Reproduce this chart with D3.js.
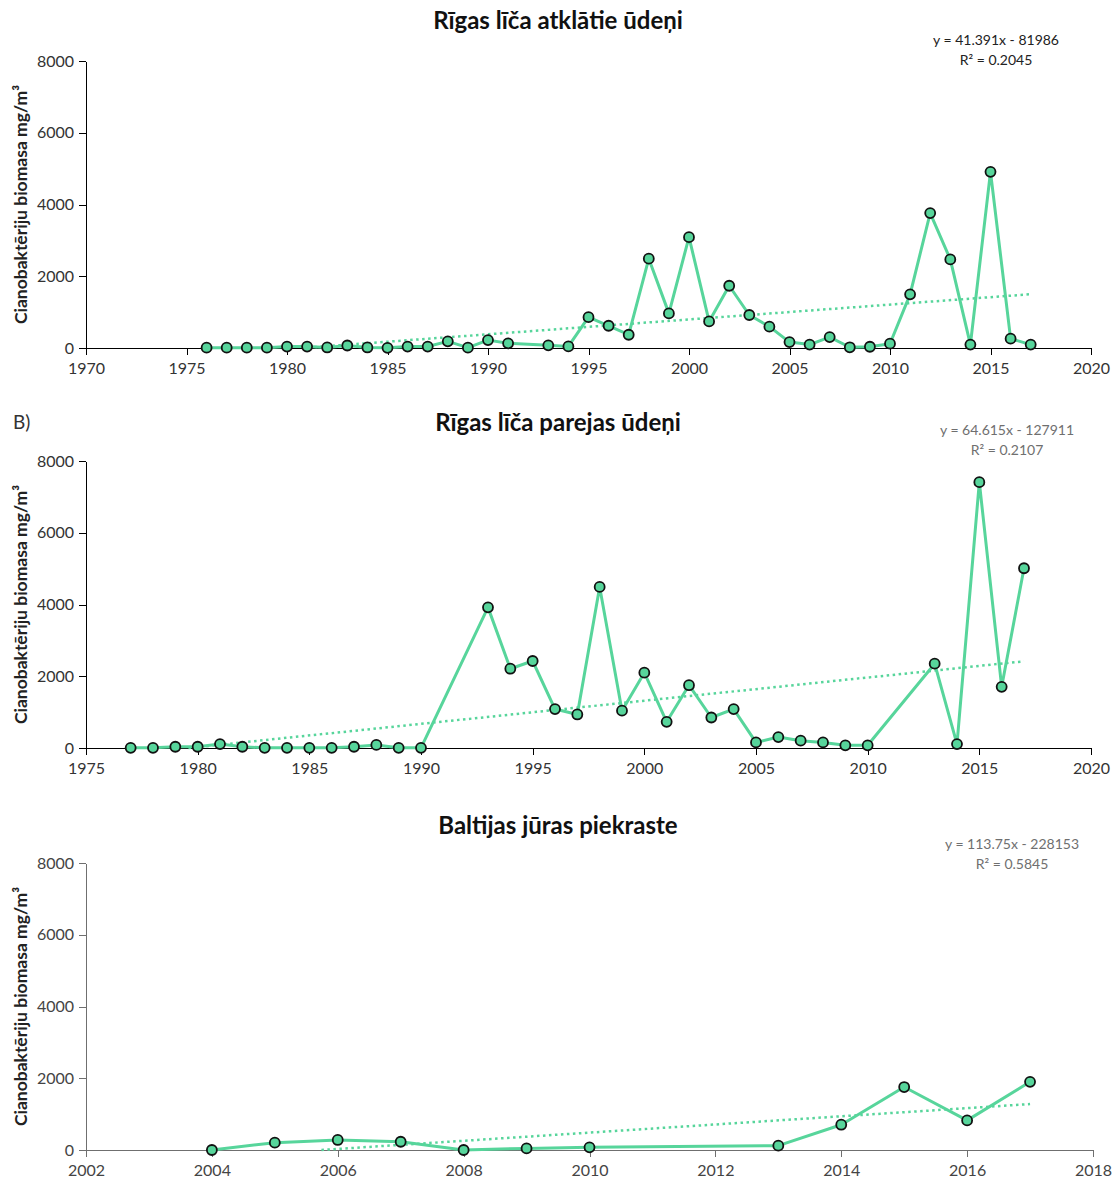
<!DOCTYPE html>
<style>
    body { margin: 0; background: #fff; font-family: Lato, 'Open Sans', sans-serif; }
    .axis path, .axis line { shape-rendering: crispEdges; }
</style>
<svg width="1115" height="1182"></svg>
<script src="https://d3js.org/d3.v7.min.js"></script>
<script>
// panel A - Rīgas līča atklātie ūdeņi
var yearsA = [1976,1977,1978,1979,1980,1981,1982,1983,1984,1985,1986,1987,1988,1989,1990,1991,1993,1994,
              1995,1996,1997,1998,1999,2000,2001,2002,2003,2004,2005,2006,2007,2008,2009,2010,2011,2012,2013,2014,2015,2016,2017];
var valuesA = [10,10,10,10,40,40,15,70,15,5,40,40,185,10,220,130,75,45,
               860,620,370,2490,965,3090,740,1735,920,595,165,95,305,20,35,120,1495,3760,2470,95,4910,260,95];
var trendA = [41.391, -81986];

// panel B - Rīgas līča parejas ūdeņi
var yearsB = [1977,1978,1979,1980,1981,1982,1983,1984,1985,1986,1987,1988,1989,1990,1993,1994,1995,
              1996,1997,1998,1999,2000,2001,2002,2003,2004,2005,2006,2007,2008,2009,2010,2013,2014,2015,2016,2017];
var valuesB = [5,5,35,35,110,35,5,5,5,5,35,85,5,5,3920,2210,2425,
               1085,935,4490,1040,2100,730,1750,850,1085,155,305,205,155,75,75,2350,110,7410,1705,5010];
var trendB = [64.615, -127911];

// panel C - Baltijas jūras piekraste
var yearsC = [2004,2005,2006,2007,2008,2009,2010,2013,2014,2015,2016,2017];
var valuesC = [0,205,280,230,0,45,75,120,705,1755,825,1900];
var trendC = [113.75, -228153];

var yTicks = [0, 2000, 4000, 6000, 8000];

var panels = [
    {title: "Rīgas līča atklātie ūdeņi", years: yearsA, values: valuesA, trend: trendA,
     eq: ["y = 41.391x - 81986", "R² = 0.2045"], xdom: [1970, 2020], xstep: 5,
     top: 61, left: 86, right: 1091, titleY: 29, eqX: 996, eqY: 45, eqColor: "#222", axisColor: "#000", textColor: "#333"},
    {title: "Rīgas līča parejas ūdeņi", years: yearsB, values: valuesB, trend: trendB,
     eq: ["y = 64.615x - 127911", "R² = 0.2107"], xdom: [1975, 2020], xstep: 5,
     top: 461, left: 86, right: 1091, titleY: 431, eqX: 1007, eqY: 435, eqColor: "#6f6f6f", axisColor: "#000", textColor: "#333"},
    {title: "Baltijas jūras piekraste", years: yearsC, values: valuesC, trend: trendC,
     eq: ["y = 113.75x - 228153", "R² = 0.5845"], xdom: [2002, 2018], xstep: 2,
     top: 863, left: 86, right: 1093, titleY: 834, eqX: 1012, eqY: 849, eqColor: "#6f6f6f", axisColor: "#6f6f6f", textColor: "#444"}
];

var svg = d3.select("svg");
var green = "#57d59b";
var plotH = 287;

svg.append("text")
    .attr("x", 13).attr("y", 429)
    .style("font-size", "19px").attr("fill", "#333")
    .text("B)");

panels.forEach(function(p) {
    var x = d3.scaleLinear().domain(p.xdom).range([p.left, p.right]);
    var y = d3.scaleLinear().domain([0, 8000]).range([p.top + plotH, p.top]);

    // title
    svg.append("text")
        .attr("x", 558).attr("y", p.titleY)
        .attr("text-anchor", "middle")
        .attr("font-size", 24).attr("font-weight", "bold").attr("fill", "#111")
        .text(p.title);

    // y label
    svg.append("text")
        .attr("transform", "translate(27," + (p.top + plotH / 2) + ") rotate(-90)")
        .attr("text-anchor", "middle")
        .attr("font-size", 17.5).attr("font-weight", "bold").attr("fill", "#222")
        .text("Cianobaktēriju biomasa mg/m³");

    // axes
    var xt = d3.range(p.xdom[0], p.xdom[1] + 1, p.xstep);
    var gx = svg.append("g")
        .attr("class", "axis")
        .attr("transform", "translate(0," + y(0) + ")")
        .call(d3.axisBottom(x).tickValues(xt).tickFormat(d3.format("d")).tickSize(7).tickSizeOuter(7));
    var gy = svg.append("g")
        .attr("class", "axis")
        .attr("transform", "translate(" + p.left + ",0)")
        .call(d3.axisLeft(y).tickValues(yTicks).tickFormat(d3.format("d")).tickSize(7).tickSizeOuter(0));
    [gx, gy].forEach(function(g) {
        g.select(".domain").attr("stroke", p.axisColor);
        g.selectAll("line").attr("stroke", p.axisColor);
        g.selectAll("text").attr("fill", p.textColor).attr("font-size", 16)
            .attr("font-family", "Lato, 'Open Sans', sans-serif");
    });
    gx.selectAll("text").attr("dy", "1.0em");
    gy.selectAll("text").attr("x", -12);

    // trend line, clipped at zero
    var x0 = p.years[0], x1 = p.years[p.years.length - 1];
    var zeroX = -p.trend[1] / p.trend[0];
    var xs = Math.max(x0, zeroX);
    svg.append("line")
        .attr("x1", x(xs)).attr("y1", y(p.trend[0] * xs + p.trend[1]))
        .attr("x2", x(x1)).attr("y2", y(p.trend[0] * x1 + p.trend[1]))
        .attr("stroke", green).attr("stroke-width", 2.5)
        .attr("stroke-dasharray", "2.5,3.5");

    var data = p.years.map(function(d, i) { return {year: d, value: p.values[i]}; });

    svg.append("path")
        .datum(data)
        .attr("fill", "none")
        .attr("stroke", green)
        .attr("stroke-width", 3)
        .attr("stroke-linejoin", "round")
        .attr("d", d3.line().x(function(d) { return x(d.year); }).y(function(d) { return y(d.value); }));

    svg.append("g").selectAll("circle")
        .data(data)
        .enter().append("circle")
        .attr("cx", function(d) { return x(d.year); })
        .attr("cy", function(d) { return y(d.value); })
        .attr("r", 5)
        .attr("fill", green)
        .attr("stroke", "#111")
        .attr("stroke-width", 1.8);

    // equation
    p.eq.forEach(function(t, i) {
        svg.append("text")
            .attr("x", p.eqX).attr("y", p.eqY + i * 20)
            .attr("text-anchor", "middle")
            .attr("font-size", 14).attr("fill", p.eqColor)
            .text(t);
    });
});
</script>
